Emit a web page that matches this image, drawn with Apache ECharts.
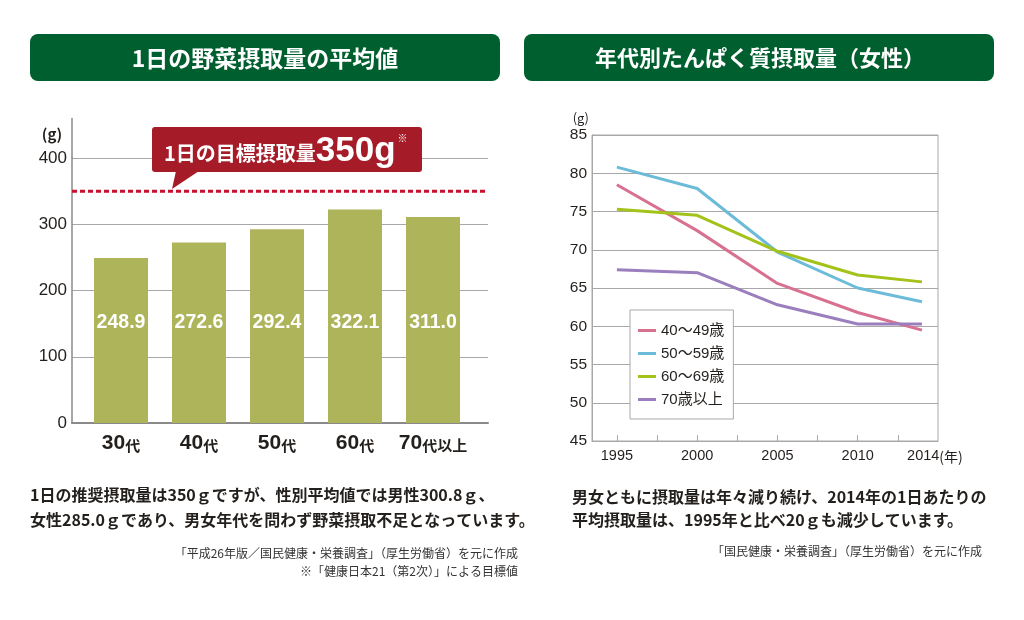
<!DOCTYPE html>
<html><head><meta charset="utf-8">
<script src="https://cdn.jsdelivr.net/npm/echarts@6/dist/echarts.min.js"></script>
<style>html,body{margin:0;padding:0;background:#fff}#c{width:1024px;height:620px}</style>
</head><body><div id="c"></div>
<script>
// ---- Left chart data ----
const vegCategories = ['30代', '40代', '50代', '60代', '70代以上'];
const vegValues = [248.9, 272.6, 292.4, 322.1, 311.0];
const vegTarget = 350;
const vegTickInterval = 100;
const vegMax = 400;

// ---- Right chart data ----
const proteinYears = [1995, 2000, 2005, 2010, 2014];
const protein40s = [78.5, 72.5, 65.6, 61.8, 59.5];
const protein50s = [80.8, 78.0, 69.7, 65.0, 63.2];
const protein60s = [75.3, 74.5, 69.8, 66.7, 65.8];
const protein70plus = [67.4, 67.0, 62.8, 60.3, 60.3];
const proteinNames = ['40～49歳', '50～59歳', '60～69歳', '70歳以上'];
const proteinLabelYears = [1995, 2000, 2005, 2010, 2014];
const proteinTickYears = [1995, 1997.5, 2000, 2002.5, 2005, 2007.5, 2010, 2012.5];

const JP = "'Noto Sans CJK JP', sans-serif";
const NUM = "'Liberation Sans', 'Noto Sans CJK JP', sans-serif";

const proteinSeriesData = [protein40s, protein50s, protein60s, protein70plus];
const proteinColors = ['#d8708f', '#6cbbd8', '#a3c21a', '#9b7ebd'];

const chart = echarts.init(document.getElementById('c'));

function txt(x, y, text, font, fill, align, valign) {
  return {
    type: 'text', x: x, y: y, z: 100,
    style: {
      text: text, font: font, fill: fill,
      align: align || 'left', textAlign: align || 'left',
      verticalAlign: valign || 'middle', textVerticalAlign: valign || 'middle'
    }
  };
}

const option = {
  animation: false,
  backgroundColor: '#fff',
  grid: [
    { left: 72, top: 158, width: 416, height: 265 },
    { left: 82, top: 158, width: 390, height: 265 },
    { left: 592, top: 135, width: 346, height: 306, show: true, borderColor: '#a8a8a8', borderWidth: 1 }
  ],
  xAxis: [
    { type: 'value', gridIndex: 0, min: 0, max: 1,
      axisLine: { show: true, lineStyle: { color: '#8a8a8a', width: 2 } },
      axisTick: { show: false }, axisLabel: { show: false }, splitLine: { show: false } },
    { type: 'category', gridIndex: 1, data: vegCategories,
      axisLine: { show: false }, axisTick: { show: false },
      axisLabel: {
        margin: 10, interval: 0,
        formatter: function (v) { return v.replace(/^(\d+)(.*)$/, '{n|$1}{k|$2}'); },
        rich: {
          n: { fontFamily: NUM, fontWeight: 'bold', fontSize: 21, color: '#231f1c' },
          k: { fontFamily: JP, fontWeight: 'bold', fontSize: 15, color: '#231f1c', padding: [3, 0, 0, 0] }
        }
      } },
    { type: 'value', gridIndex: 2, min: 1993.45, max: 2015,
      axisLine: { show: true, lineStyle: { color: '#a8a8a8', width: 1 } },
      axisTick: { show: true, inside: true, length: 6, customValues: proteinTickYears, lineStyle: { color: '#a8a8a8' } },
      axisLabel: {
        customValues: proteinLabelYears, margin: 8,
        formatter: function (v) { return v === 2014 ? '{p|}{a|2014}{b|(年)}' : '{a|' + v + '}'; },
        rich: {
          a: { fontFamily: NUM, fontSize: 14.5, color: '#231f1c' },
          b: { fontFamily: JP, fontSize: 14, color: '#231f1c' },
          p: { width: 26 }
        }
      },
      splitLine: { show: false } }
  ],
  yAxis: [
    { type: 'value', gridIndex: 0, min: 0, max: vegMax, interval: vegTickInterval,
      axisLine: { show: true, lineStyle: { color: '#8a8a8a', width: 1.5 } },
      axisTick: { show: false },
      axisLabel: { fontFamily: NUM, fontSize: 17, color: '#231f1c', margin: 5 },
      splitLine: { show: true, lineStyle: { color: '#a8a8a8', width: 1 } } },
    { type: 'value', gridIndex: 1, min: 0, max: vegMax, show: false, splitLine: { show: false } },
    { type: 'value', gridIndex: 2, min: 45, max: 85, interval: 5,
      axisLine: { show: true, lineStyle: { color: '#a8a8a8', width: 1 } },
      axisTick: { show: false },
      axisLabel: { fontFamily: NUM, fontSize: 15.5, color: '#231f1c', margin: 5 },
      splitLine: { show: true, lineStyle: { color: '#a8a8a8', width: 1 } } }
  ],
  legend: {
    data: proteinNames,
    orient: 'vertical', left: 630, top: 310,
    padding: [12, 9, 11, 8],
    itemGap: 6, itemWidth: 18, itemHeight: 3, icon: 'rect',
    backgroundColor: '#fff', borderColor: '#a8a8a8', borderWidth: 1,
    textStyle: { fontFamily: NUM, fontSize: 15, color: '#231f1c', lineHeight: 17 },
    selectedMode: false
  },
  series: [
    { type: 'line', name: 'target', xAxisIndex: 0, yAxisIndex: 0,
      data: [[0, vegTarget], [1, vegTarget]], symbol: 'none', silent: true, z: 5,
      lineStyle: { color: '#c8102e', width: 3, type: [5, 3] } },
    { type: 'bar', name: 'veg', xAxisIndex: 1, yAxisIndex: 1, data: vegValues,
      barWidth: 54, itemStyle: { color: '#adb45a' },
      label: { show: true, position: 'insideBottom', distance: 91,
        formatter: function (p) { return p.value.toFixed(1); },
        fontFamily: NUM, fontWeight: 'bold', fontSize: 19.5, color: '#fff' } }
  ].concat(proteinNames.map(function (n, i) {
    return { type: 'line', name: n, xAxisIndex: 2, yAxisIndex: 2,
      data: proteinYears.map(function (y, j) { return [y, proteinSeriesData[i][j]]; }),
      symbol: 'none', color: proteinColors[i],
      lineStyle: { width: 3, color: proteinColors[i] } };
  })),
  graphic: [
    { type: 'rect', shape: { x: 30, y: 34, width: 470, height: 47, r: 8 }, style: { fill: '#005f2e' } },
    { type: 'rect', shape: { x: 524, y: 34, width: 470, height: 47, r: 8 }, style: { fill: '#005f2e' } },
    txt(265, 58, '1日の野菜摂取量の平均値', 'bold 23px ' + JP, '#fff', 'center'),
    txt(760, 58, '年代別たんぱく質摂取量（女性）', 'bold 22px ' + JP, '#fff', 'center'),
    { type: 'line', shape: { x1: 72, y1: 118, x2: 72, y2: 158 }, style: { stroke: '#8a8a8a', lineWidth: 1.5 } },
    txt(52, 134, '(g)', 'bold 15px ' + JP, '#231f1c', 'center'),
    txt(589, 118, '(g)', '13px ' + JP, '#231f1c', 'right'),
    // callout
    { type: 'rect', z: 50, shape: { x: 152, y: 127, width: 270, height: 45, r: 3 }, style: { fill: '#a51c28' } },
    { type: 'polygon', z: 50, shape: { points: [[176, 171], [199, 171], [172, 189]] }, style: { fill: '#a51c28' } },
    { type: 'text', z: 60, x: 164, y: 151,
      style: {
        text: '{a|1日の目標摂取量}{b|350g}{c|※}',
        align: 'left', verticalAlign: 'middle', textAlign: 'left', textVerticalAlign: 'middle',
        rich: {
          a: { fontFamily: JP, fontWeight: 'bold', fontSize: 20, fill: '#fff', color: '#fff', padding: [4, 0, 0, 0] },
          b: { fontFamily: NUM, fontWeight: 'bold', fontSize: 35, fill: '#fff', color: '#fff' },
          c: { fontFamily: JP, fontSize: 10, fill: '#fff', color: '#fff', verticalAlign: 'top', padding: [0, 0, 18, 2] }
        }
      } },
    // paragraphs
    txt(30, 495, '1日の推奨摂取量は350ｇですが、性別平均値では男性300.8ｇ、', 'bold 16px ' + JP, '#231f1c'),
    txt(30, 520, '女性285.0ｇであり、男女年代を問わず野菜摂取不足となっています。', 'bold 16px ' + JP, '#231f1c'),
    txt(518, 553, '「平成26年版／国民健康・栄養調査」（厚生労働省）を元に作成', '12px ' + JP, '#333', 'right'),
    txt(518, 571, '※「健康日本21（第2次）」による目標値', '12px ' + JP, '#333', 'right'),
    txt(572, 497, '男女ともに摂取量は年々減り続け、2014年の1日あたりの', 'bold 16px ' + JP, '#231f1c'),
    txt(572, 520, '平均摂取量は、1995年と比べ20ｇも減少しています。', 'bold 16px ' + JP, '#231f1c'),
    txt(982, 551, '「国民健康・栄養調査」（厚生労働省）を元に作成', '12px ' + JP, '#333', 'right')
  ]
};
chart.setOption(option);
</script>
</body></html>
